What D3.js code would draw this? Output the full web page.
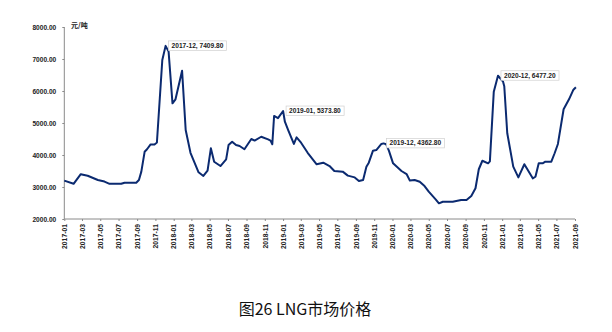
<!DOCTYPE html>
<html><head><meta charset="utf-8">
<script src="https://cdn.jsdelivr.net/npm/d3@7"></script>
<style>body{margin:0;background:#fff}svg{display:block}</style>
</head><body>
<svg id="c" width="612" height="332"></svg>
<script>
const dates = ["2017-01-01","2017-02-01","2017-02-25","2017-03-20","2017-04-23","2017-05-15","2017-06-01","2017-07-10","2017-07-21","2017-08-29","2017-09-07","2017-09-15","2017-09-26","2017-10-04","2017-10-16","2017-10-29","2017-11-06","2017-11-24","2017-12-05","2017-12-15","2017-12-28","2018-01-07","2018-01-29","2018-02-10","2018-02-26","2018-03-25","2018-04-10","2018-04-24","2018-05-05","2018-05-16","2018-06-06","2018-06-25","2018-07-03","2018-07-15","2018-07-28","2018-08-09","2018-08-25","2018-09-17","2018-09-28","2018-10-20","2018-11-12","2018-11-20","2018-11-26","2018-12-02","2018-12-15","2019-01-01","2019-01-07","2019-01-18","2019-02-06","2019-02-15","2019-03-02","2019-03-24","2019-04-23","2019-05-15","2019-06-05","2019-06-21","2019-07-19","2019-08-05","2019-08-28","2019-09-11","2019-09-25","2019-10-06","2019-10-14","2019-10-28","2019-11-08","2019-11-25","2019-12-02","2019-12-11","2019-12-20","2020-01-03","2020-01-31","2020-02-17","2020-02-28","2020-03-15","2020-04-01","2020-04-17","2020-05-01","2020-05-24","2020-06-04","2020-06-17","2020-07-20","2020-08-17","2020-09-04","2020-09-20","2020-10-04","2020-10-15","2020-10-27","2020-11-15","2020-11-21","2020-12-04","2020-12-18","2021-01-04","2021-01-08","2021-01-18","2021-02-07","2021-02-24","2021-03-16","2021-04-13","2021-04-22","2021-05-03","2021-05-16","2021-05-25","2021-06-14","2021-06-25","2021-07-06","2021-07-25","2021-08-12","2021-08-26","2021-09-04"];
const prices = [3200,3100,3400,3350,3220,3170,3100,3100,3135,3135,3220,3480,4100,4180,4330,4330,4390,6970,7410,7230,5615,5740,6634,4780,4070,3460,3345,3510,4210,3790,3655,3865,4310,4415,4310,4280,4180,4500,4450,4570,4490,4450,4335,5220,5150,5374,5040,4780,4345,4550,4385,4070,3710,3760,3655,3500,3480,3355,3300,3190,3220,3635,3760,4135,4155,4345,4363,4335,4135,3740,3500,3405,3200,3220,3165,3030,2855,2615,2490,2540,2540,2595,2595,2720,2960,3555,3820,3740,3800,5980,6477,6290,6150,4680,3635,3300,3710,3270,3320,3740,3740,3790,3790,4055,4345,5430,5740,6030,6115];
const yTicks = [2000,3000,4000,5000,6000,7000,8000];
const annDates = ["2017-12-05","2019-01-01","2019-12-02","2020-12-18"];
const annValues = [7409.80,5373.80,4362.80,6477.20];
const annTexts = ["2017-12, 7409.80","2019-01, 5373.80","2019-12, 4362.80","2020-12, 6477.20"];
const unitLabel = "元/吨";
const title = "图26 LNG市场价格";

const parse = d3.timeParse("%Y-%m-%d");
const data = dates.map((d,i)=>({date:parse(d), v:prices[i]}));
const svg = d3.select("#c");
const x = d3.scaleTime().domain([parse("2017-01-01"), parse("2021-09-01")]).range([64.3, 575]);
const y = d3.scaleLinear().domain([2000,8000]).range([219,27]);
const font = "'Liberation Sans', Arial, sans-serif";

// y axis
const ya = svg.append("g").attr("transform","translate(64.3,0)")
  .call(d3.axisLeft(y).tickValues(yTicks).tickFormat(d3.format(".2f")).tickSize(2).tickPadding(6));
ya.select(".domain").attr("stroke","#8a8a8a").attr("d","M0,27V219");
ya.selectAll(".tick line").attr("stroke","#8a8a8a");
ya.selectAll("text").attr("font-family",font).attr("font-size","6.6px").attr("font-weight","bold").attr("fill","#222");

// x axis
const xa = svg.append("g").attr("transform","translate(0,219)")
  .call(d3.axisBottom(x).ticks(d3.timeMonth.every(2)).tickFormat(d3.timeFormat("%Y-%m")).tickSize(2).tickPadding(4));
xa.select(".domain").attr("stroke","#8a8a8a").attr("d","M64.3,0H575");
xa.selectAll(".tick line").attr("stroke","#8a8a8a");
xa.selectAll("text").attr("font-family",font).attr("font-size","6.8px").attr("font-weight","bold").attr("fill","#222")
  .attr("transform","rotate(-90)").attr("text-anchor","end").attr("y",0).attr("x",0)
  .attr("dy","0.33em").attr("dx","-5");

svg.append("text").attr("x",71).attr("y",28).attr("font-family","'Noto Sans CJK SC', sans-serif")
  .attr("font-size","7px").attr("font-weight","bold").attr("fill","#222").text(unitLabel);

// line
svg.append("path").datum(data)
  .attr("fill","none").attr("stroke","#0b2a70").attr("stroke-width",2).attr("stroke-linejoin","round")
  .attr("d", d3.line().x(d=>x(d.date)).y(d=>y(d.v)));

// annotations
annDates.forEach((d,i)=>{
  const px = x(parse(d)), py = y(annValues[i]);
  const g = svg.append("g").attr("transform",`translate(${px+3},${py-5})`);
  const rect = g.append("rect").attr("fill","#fff").attr("stroke","#d0d0d0").attr("stroke-width",0.7);
  const t = g.append("text").attr("x",3).attr("y",7).attr("font-family",font).attr("font-size","6.6px")
    .attr("font-weight","bold").attr("fill","#222").text(annTexts[i]);
  const bb = t.node().getBBox();
  rect.attr("x",0).attr("y",0).attr("width",bb.width+6).attr("height",9.5);
});

svg.append("text").attr("x",305).attr("y",315).attr("text-anchor","middle")
  .attr("font-family","'Noto Sans CJK SC', sans-serif").attr("font-size","16px").attr("fill","#111").text(title);
</script>
</body></html>
